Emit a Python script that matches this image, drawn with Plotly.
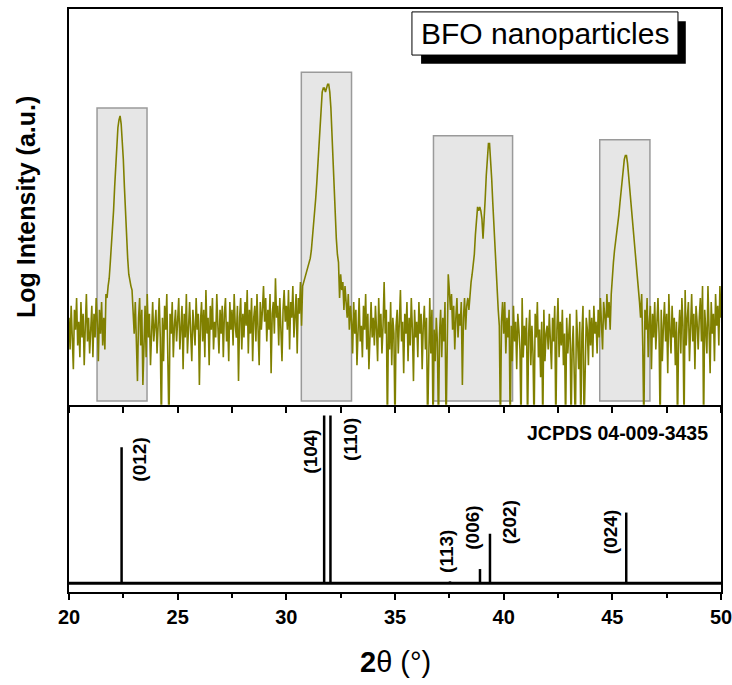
import numpy as np
import plotly.graph_objects as go

# measured pattern, 20-50 deg at 0.05 deg steps (one row = 1 deg)
scan_start = 20.0
scan_step = 0.05
intensity = [
    22, 14, 25, 18, 9, 24, 19, 27, 15, 21, 12, 26, 17, 23, 10, 20, 28, 16, 22, 13,      # 20
    19, 25, 12, 23, 17, 27, 21, 11, 24, 18, 26, 15, 22, 14, 28, 27, 30, 32, 36, 40,     # 21
    44, 49, 55, 61, 66, 70, 72, 73, 71, 67, 62, 55, 48, 42, 37, 33, 31, 30, 29, 24,     # 22
    18, 26, 14, 6, 22, 27, 15, 24, 5, 19, 25, 12, 28, 17, 23, 10, 21, 26, 16, 20,       # 23
    24, 13, 21, 27, 17, -6, 22, 11, 25, 19, 28, 15, -6, 23, 18, 26, 12, 20, 24, 16,     # 24
    22, 27, 14, 19, 25, 9, 23, 17, 28, 13, 21, 26, 18, 11, 24, 20, 15, 27, 19, 23,      # 25
    5, 21, 26, 16, 24, 12, 29, 18, 22, 10, 25, 19, 27, 14, 21, 17, 28, 20, 13, 24,      # 26
    18, 25, 12, 23, 27, 16, 21, 11, 26, 19, 24, 15, 28, 20, 17, 25, 6, 22, 27, 14,      # 27
    23, 17, 26, 20, 29, 13, 24, 18, 27, 11, 22, 25, 16, 28, 21, 10, 26, 19, 24, 30,     # 28
    21, 27, 16, 24, 19, 28, 8, 23, 26, 18, 32, 22, 25, 15, 27, 20, 11, 24, 29, 21,      # 29
    25, 19, 29, 14, 26, 22, 30, 17, 24, 28, 13, 27, 23, 31, 20, 30, 31, 32, 33, 34,     # 30
    35, 36, 37, 39, 42, 44, 48, 52, 56, 61, 66, 71, 76, 79, 80, 80, 79, 80, 81, 81,     # 31
    79, 75, 68, 60, 52, 46, 42, 38, 36, 27, 33, 29, 31, 24, 30, 26, 22, 28, 19, 25,     # 32
    21, 13, 26, 18, 24, 10, 22, 27, 16, 20, 12, 25, 19, 28, 14, 23, 9, 21, 26, 17,      # 33
    22, 15, 25, 19, 11, 27, 17, 23, 13, 20, 31, 18, 24, -6, 21, 14, 26, 10, 22, 18,     # 34
    -6, 20, 24, 13, 25, 29, 16, 21, 8, 23, 18, 26, 11, 22, 15, 27, 19, 6, 24, 17,       # 35
    21, 12, 26, 18, 23, 9, 20, 25, 14, 22, -6, 17, 27, 13, 24, -6, 19, 11, 22, 16,      # 36
    -6, 18, 24, 12, 22, 16, 26, -6, 21, 33, 29, 24, 28, 19, 25, 14, 22, 27, 17, 23,     # 37
    20, 26, 5, 22, 27, 19, 25, 27, 24, 29, 31, 33, 35, 38, 43, 48, 50, 49, 50, 49,      # 38
    47, 42, 46, 52, 58, 63, 66, 66, 62, 57, 51, 45, 42, 36, 31, 24, 20, -6, 21, 26,     # 39
    18, 26, 13, 22, 17, 24, -6, 20, 11, 25, 16, 21, 9, 23, 19, 14, -6, 27, 12, 20,      # 40
    15, 22, -6, 18, 24, 10, 20, 13, -6, 23, 17, 26, 12, 19, 7, 21, -6, 24, 11, 18,      # 41
    20, 14, 23, 17, 9, 22, 16, 25, -6, 19, 27, 12, 21, 15, 24, 10, 18, -6, 22, 13,      # 42
    17, 23, -6, 14, 20, 11, -6, 24, 16, 9, 21, -6, 18, 25, -6, 13, 22, 19, 10, 24,      # 43
    15, 22, 12, 25, 18, 21, 13, 24, 17, 27, 20, 14, 26, 23, 19, 28, 22, 26, 19, 28,     # 44
    33, 36, 39, 41, 43, 45, 48, 51, 54, 57, 60, 62, 63, 63, 61, 58, 55, 52, 48, 45,     # 45
    41, 38, 35, 32, 29, 26, 22, 28, 15, -6, 24, 19, 27, 12, 21, 25, 9, 23, 17, 26,      # 46
    14, 22, 27, 18, -6, 24, 11, 20, 26, 16, 23, 8, 28, 19, 13, 25, 17, 22, 10, 21,      # 47
    -6, 18, 24, 13, 27, 20, -6, 29, 15, 22, 26, 11, 19, 28, 16, 23, 9, 25, 21, 14,      # 48
    22, 27, 16, 30, -6, 24, 19, 13, 30, 21, 8, 26, 18, 23, 11, 28, 20, 25, 15, 30,      # 49
    22,                                                                                 # 50
]
two_theta = scan_start + scan_step * np.arange(len(intensity))

# grey boxes round the peaks
win_left = [21.29, 30.69, 36.77, 44.42]
win_right = [23.59, 33.0, 40.41, 46.73]
win_top = [75, 84, 68, 67]
win_bottom = 1

# JCPDS 04-009-3435 reference lines
ref_pos = [22.42, 31.74, 32.03, 37.53, 38.91, 39.37, 45.64]
ref_int = [77, 95, 95, 1, 8, 28, 40]
ref_hkl = ['(012)', '(104)', '(110)', '(113)', '(006)', '(202)', '(024)']
# where the hkl labels sit
lab_x = [23.27, 31.1, 32.95, 37.37, 38.56, 40.25, 44.93]
lab_y = [70, 74.6, 81.4, 18, 31.6, 34.5, 28.8]

FONT = 'Arial, Liberation Sans, sans-serif'
olive = '#808000'

fig = go.Figure()

fig.add_trace(go.Scatter(x=two_theta, y=intensity, mode='lines',
                         line=dict(color=olive, width=1.6),
                         xaxis='x2', yaxis='y2', showlegend=False))

sx, sy = [], []
for p, h in zip(ref_pos, ref_int):
    sx += [p, p, None]
    sy += [0, h, None]
fig.add_trace(go.Scatter(x=sx, y=sy, mode='lines',
                         line=dict(color='black', width=2.5),
                         xaxis='x', yaxis='y', showlegend=False))

for x0, x1, top in zip(win_left, win_right, win_top):
    fig.add_shape(type='rect', xref='x2', yref='y2', x0=x0, x1=x1,
                  y0=win_bottom, y1=top, layer='below',
                  fillcolor='#e6e6e6', line=dict(color='#9a9a9a', width=1.5))

# stick baseline
fig.add_shape(type='line', xref='x domain', yref='y', x0=0, x1=1, y0=0, y1=0,
              line=dict(color='black', width=3))

# sample label with drop shadow
fig.add_shape(type='rect', xref='paper', yref='paper', x0=0.540, x1=0.946,
              y0=0.906, y1=0.979, fillcolor='black', line=dict(width=0), layer='above')
fig.add_shape(type='rect', xref='paper', yref='paper', x0=0.526, x1=0.934,
              y0=0.921, y1=0.995, fillcolor='white',
              line=dict(color='black', width=1), layer='above')
fig.add_annotation(text='BFO nanoparticles', xref='paper', yref='paper',
                   x=0.730, y=0.958, xanchor='center', yanchor='middle', showarrow=False,
                   font=dict(family=FONT, size=30, color='black'))

for t, x, y in zip(ref_hkl, lab_x, lab_y):
    fig.add_annotation(text='<b>%s</b>' % t, x=x, y=y, xref='x', yref='y',
                       xanchor='center', yanchor='middle',
                       textangle=-90, showarrow=False,
                       font=dict(family=FONT, size=19, color='black'))

fig.add_annotation(text='<b>JCPDS 04-009-3435</b>', xref='paper', yref='y',
                   x=0.983, y=85, xanchor='right', yanchor='middle', showarrow=False,
                   font=dict(family=FONT, size=19.5, color='black'))

fig.add_annotation(text='<b>Log Intensity (a.u.)</b>', xref='paper', yref='y2 domain',
                   x=0, y=0.5, xshift=-43, xanchor='center', yanchor='middle',
                   textangle=-90, showarrow=False,
                   font=dict(family=FONT, size=25, color='black'))

fig.add_annotation(text='<b>2</b>θ (°)', xref='paper', yref='paper',
                   x=0.5, y=0, yshift=-70, xanchor='center', yanchor='middle', showarrow=False,
                   font=dict(family=FONT, size=29, color='black'))

frame = dict(showline=True, linewidth=2, linecolor='black', showgrid=False, zeroline=False)
tick_style = dict(ticklen=6, tickwidth=2, tickcolor='black', tick0=20, dtick=5)

fig.update_layout(
    width=732, height=685,
    margin=dict(l=69, r=11, t=9, b=93, autoexpand=False),
    paper_bgcolor='white', plot_bgcolor='white',
    showlegend=False,
    xaxis=dict(domain=[0, 1], range=[20, 50], anchor='y', ticks='outside',
               minor=dict(ticks='outside', ticklen=4, tickwidth=2, tickcolor='black', dtick=2.5),
               tickfont=dict(family=FONT, size=20, color='black', weight='bold'),
               ticklabeloverflow='allow',
               **tick_style, **frame),
    # bottom edge of the upper panel: its ticks point down into the stick panel
    xaxis2=dict(domain=[0, 1], range=[20, 50], anchor='y2', mirror=True,
                ticks='outside', showticklabels=False,
                minor=dict(ticks='outside', ticklen=6, tickwidth=2, tickcolor='black', dtick=2.5),
                **tick_style, **frame),
    yaxis=dict(domain=[0, 0.318], range=[-5, 100], mirror=True,
               ticks='', showticklabels=False, **frame),
    yaxis2=dict(domain=[0.321, 1], range=[0, 100], mirror=True,
                ticks='', showticklabels=False, **frame),
)

fig.write_html('out.html', config={'displayModeBar': False},
               post_script="document.body.style.margin='0';")
